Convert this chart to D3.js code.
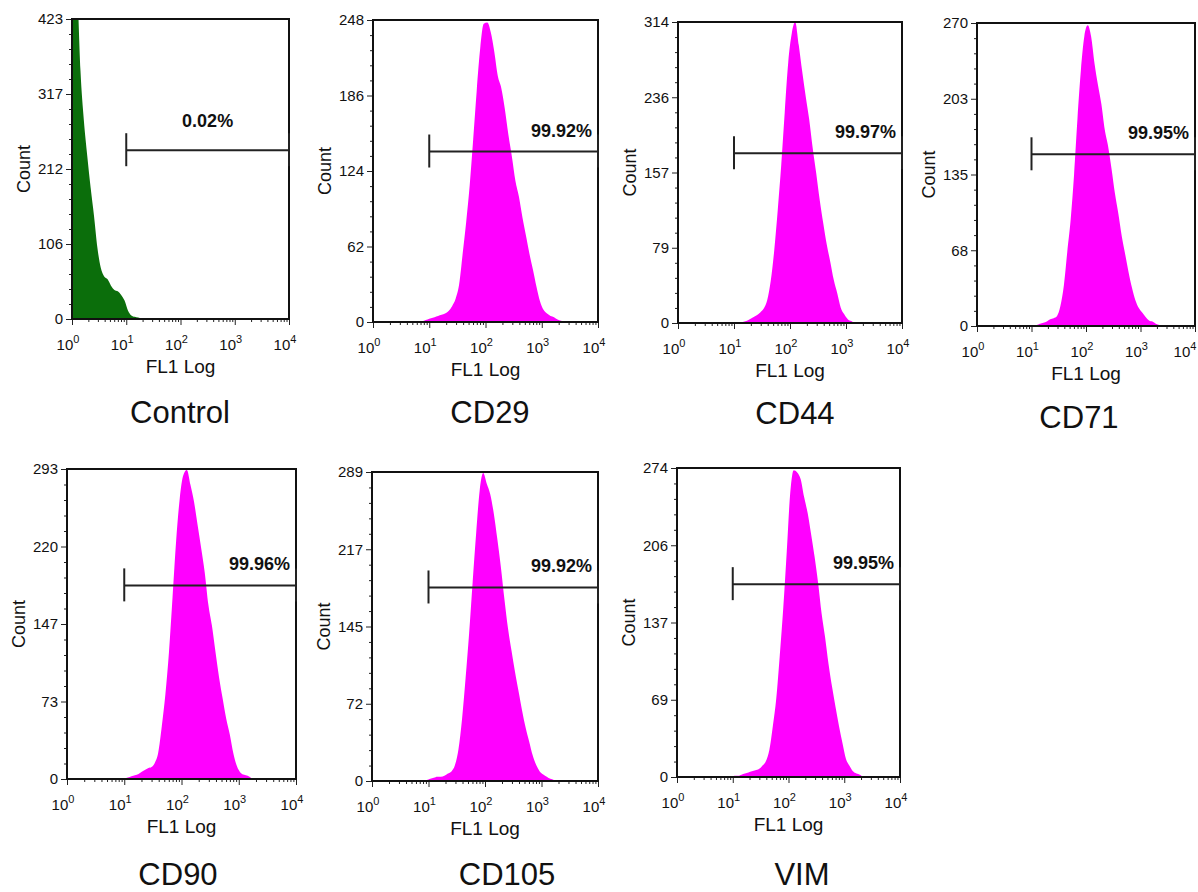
<!DOCTYPE html>
<html><head><meta charset="utf-8">
<script src="https://cdn.jsdelivr.net/npm/d3@7"></script>
<style>
body{margin:0;background:#fff}
svg{display:block}
text{font-family:Arial,"Liberation Sans",sans-serif;fill:#111}
</style></head><body>
<svg id="chart" width="1198" height="892"></svg>
<script>
// ---------------- DATA ----------------
const panelNames = ["Control","CD29","CD44","CD71","CD90","CD105","VIM"];
const yMax = [423, 248, 314, 270, 293, 289, 274];
const yTickLabels = [
  ["0","106","212","317","423"],
  ["0","62","124","186","248"],
  ["0","79","157","236","314"],
  ["0","68","135","203","270"],
  ["0","73","147","220","293"],
  ["0","72","145","217","289"],
  ["0","69","137","206","274"]
];
const xTickExponents = ["0","1","2","3","4"];
const xLabel = "FL1 Log";
const yLabel = "Count";
const gateText = ["0.02%","99.92%","99.97%","99.95%","99.96%","99.92%","99.95%"];
const gateLevel = [238, 140, 177, 153, 183, 181, 171];   // count level of the marker bar
const gateFrom = 10, gateTo = 10000;
const binsPerDecade = 16;  // channel width = 1/16 decade, 64 channels from 10^0 to 10^4

const countsControl = [600,480,350,280,230,185,145,100,72,60,56,47,41,39,34,26,12,5,3,2,
  1,1,1,1,1,1,1,1,1,1,1,1,1,1,1,1,1,1,1,1,1,1,1,1,1,1,1,1,1,1,1,1,1,1,1,1,1,1,1,1,1,1,1,1];
const countsCD29 = [0,0,0,0,0,0,0,0,0,0,0,0,0,0,
  1,2,3,4,5,6,7,9,13,19,
  31,56,82,112,150,190,225,245,246,238,
  222,202,192,175,154,136,116,103,86,71,
  56,43,29,17,10,7,5,4,2,1,
  0,0,0,0,0,0,0,0,0,0];
const countsCD44 = [0,0,0,0,0,0,0,0,0,0,0,0,0,0,0,0,0,0,
  1,2,4,6,8,11,15,24,44,76,
  118,165,220,272,302,314,290,262,236,212,
  182,156,128,104,82,64,45,31,16,9,
  4,2,
  0,0,0,0,0,0,0,0,0,0,0,0,0,0];
const countsCD71 = [0,0,0,0,0,0,0,0,0,0,0,0,0,0,0,0,
  1,1,2,3,4,6,7,9,18,36,
  66,95,135,185,228,258,268,258,234,215,
  198,175,160,140,118,100,80,64,48,34,
  23,16,12,8,5,4,2,1,
  0,0,0,0,0,0,0,0,0,0];
const countsCD90 = [0,0,0,0,0,0,0,0,0,0,0,0,0,0,0,0,
  1,2,3,4,6,8,10,11,15,25,
  50,80,120,172,225,265,287,292,278,262,
  240,218,195,165,145,120,96,76,57,42,
  24,12,6,4,3,1,
  0,0,0,0,0,0,0,0,0,0,0,0];
const countsCD105 = [0,0,0,0,0,0,0,0,0,0,0,0,0,0,
  1,1,2,3,4,4,5,7,9,15,
  30,58,96,138,186,232,272,288,278,268,
  250,226,200,170,143,122,102,84,66,50,
  37,24,15,9,6,4,2,1,
  0,0,0,0,0,0,0,0,0,0,0,0];
const countsVIM = [0,0,0,0,0,0,0,0,0,0,0,0,0,0,0,0,
  1,1,2,3,4,5,6,7,10,14,
  24,45,70,108,150,200,252,272,270,264,
  248,234,215,195,172,145,124,100,80,62,
  45,30,16,10,5,3,2,
  0,0,0,0,0,0,0,0,0,0,0];
const allCounts = [countsControl,countsCD29,countsCD44,countsCD71,countsCD90,countsCD105,countsVIM];

// ---------------- LAYOUT / STYLE ----------------
const layout = [
  {l:72,  t:19,  r:289,  b:319, tx:180,  ty:423},
  {l:373, t:20,  r:598,  b:322, tx:490,  ty:423},
  {l:678, t:22,  r:902,  b:323, tx:795,  ty:424},
  {l:977, t:23,  r:1195, b:326, tx:1079, ty:428},
  {l:67,  t:469, r:296,  b:779, tx:178,  ty:885},
  {l:372, t:472, r:598,  b:781, tx:507,  ty:885},
  {l:677, t:468, r:900,  b:777, tx:802,  ty:885}
];
const fillColors = ["#0b6e0b","#ff00ff","#ff00ff","#ff00ff","#ff00ff","#ff00ff","#ff00ff"];
const W = 1198;

const svg = d3.select("#chart");
const defs = svg.append("defs");

panelNames.forEach((name, p) => {
  const L = layout[p];
  const x = d3.scaleLog().domain([1, 10000]).range([L.l, L.r]);
  const y = d3.scaleLinear().domain([0, yMax[p]]).range([L.b, L.t]);
  const g = svg.append("g");

  defs.append("clipPath").attr("id","clip"+p)
    .append("rect").attr("x",L.l).attr("y",L.t).attr("width",L.r-L.l).attr("height",L.b-L.t);

  // histogram: channel centres joined by a monotone outline
  const counts = allCounts[p];
  const pts = [{e: 1, c: counts[0]}];
  counts.forEach((c,i) => pts.push({e: Math.pow(10, (i+0.5)/binsPerDecade), c}));
  pts.push({e: 10000, c: counts[counts.length-1]});
  const area = d3.area()
    .x(d => x(d.e)).y0(y(0)).y1(d => y(d.c))
    .curve(d3.curveMonotoneX);
  g.append("path").datum(pts).attr("d", area)
    .attr("fill", fillColors[p]).attr("clip-path","url(#clip"+p+")");

  // x axis ticks
  const minor = [];
  for (let k=0;k<4;k++) for (let m=2;m<=9;m++) minor.push(m*Math.pow(10,k));
  const xMinor = g.append("g").attr("transform",`translate(0,${L.b})`)
    .call(d3.axisBottom(x).tickValues(minor).tickSize(3).tickFormat(""));
  const xMajor = g.append("g").attr("transform",`translate(0,${L.b})`)
    .call(d3.axisBottom(x).tickValues([1,10,100,1000,10000]).tickSize(6).tickFormat(""));
  [xMinor,xMajor].forEach(a=>{a.select(".domain").remove(); a.selectAll("line").attr("stroke","#222").attr("stroke-width",1);});

  // x tick labels with superscripts
  xTickExponents.forEach((ex,i) => {
    const v = Math.pow(10,i);
    let cx = x(v)-4;
    if (cx + 12 > W - 1) cx = W - 13;
    const t = g.append("text").attr("x", cx).attr("y", L.b+31)
      .attr("text-anchor","middle").style("font-size","15px");
    t.append("tspan").text("10");
    t.append("tspan").attr("dy",-7).style("font-size","11px").text(ex);
  });

  // y axis
  const yVals = yTickLabels[p].map((s,i)=> yMax[p]*i/4);
  const yMinorVals = [];
  for (let i=0;i<20;i++) if (i%5!==0) yMinorVals.push(yMax[p]*i/20);
  const yMinorAx = g.append("g").attr("transform",`translate(${L.l},0)`)
    .call(d3.axisLeft(y).tickValues(yMinorVals).tickSize(3).tickFormat(""));
  const yAx = g.append("g").attr("transform",`translate(${L.l},0)`)
    .call(d3.axisLeft(y).tickValues(yVals).tickSize(6).tickPadding(3)
      .tickFormat((d,i)=>yTickLabels[p][i]));
  [yMinorAx,yAx].forEach(a=>{a.select(".domain").remove(); a.selectAll("line").attr("stroke","#222");});
  yAx.selectAll("text").style("font-size","15px").style("font-family","Arial, 'Liberation Sans', sans-serif")
    .attr("fill","#111");

  // frame
  g.append("rect").attr("x",L.l).attr("y",L.t).attr("width",L.r-L.l).attr("height",L.b-L.t)
    .attr("fill","none").attr("stroke","#111").attr("stroke-width",2);

  // axis titles
  g.append("text").attr("x",(L.l+L.r)/2).attr("y",L.b+54).attr("text-anchor","middle")
    .style("font-size","19px").text(xLabel);
  g.append("text").attr("transform",`translate(${L.l-42},${(L.t+L.b)/2}) rotate(-90)`)
    .attr("text-anchor","middle").style("font-size","18px").text(yLabel);

  // gate marker
  const gy = y(gateLevel[p]), gx1 = x(gateFrom), gx2 = x(gateTo);
  g.append("line").attr("x1",gx1).attr("x2",gx2).attr("y1",gy).attr("y2",gy)
    .attr("stroke","#222").attr("stroke-width",2);
  [gx1,gx2].forEach(xx => g.append("line").attr("x1",xx).attr("x2",xx)
    .attr("y1",gy-17).attr("y2",gy+16).attr("stroke","#222").attr("stroke-width",2));
  if (p === 0) {
    g.append("text").attr("x",(gx1+gx2)/2).attr("y",gy-23).attr("text-anchor","middle")
      .style("font-size","18px").style("font-weight","bold").text(gateText[p]);
  } else {
    g.append("text").attr("x",gx2-6).attr("y",gy-15).attr("text-anchor","end")
      .style("font-size","18px").style("font-weight","bold").text(gateText[p]);
  }

  // panel title
  g.append("text").attr("x",L.tx).attr("y",L.ty).attr("text-anchor","middle")
    .style("font-size","31px").text(name);
});
</script>
</body></html>
